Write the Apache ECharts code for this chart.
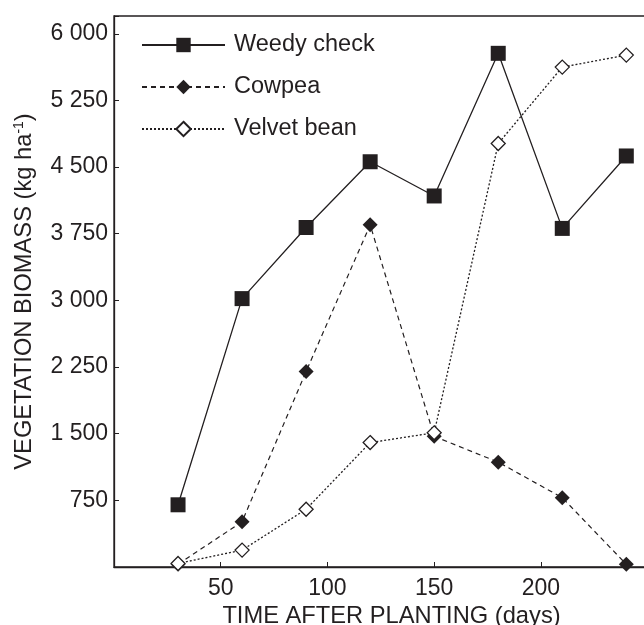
<!DOCTYPE html>
<html>
<head>
<meta charset="utf-8">
<script src="https://cdn.jsdelivr.net/npm/echarts@6/dist/echarts.min.js"></script>
<style>
html,body{margin:0;padding:0;background:#fff;}
#c{width:644px;height:625px;}
</style>
</head>
<body>
<div id="c"></div>
<script>
const days = [30, 60, 90, 120, 150, 180, 210, 240];
const weedyCheck = [700, 3020, 3820, 4560, 4175, 5780, 3810, 4625];
const cowpea = [30, 510, 2200, 3850, 1470, 1180, 780, 30];
const velvetBean = [40, 190, 650, 1400, 1510, 4765, 5625, 5760];
const seriesNames = ['Weedy check', 'Cowpea', 'Velvet bean'];
const yTicks = [0, 750, 1500, 2250, 3000, 3750, 4500, 5250, 6000];
const xTicks = [50, 100, 150, 200];

const INK = '#231f20';
const FONT = '"Liberation Sans", Arial, sans-serif';
const pairs = vals => days.map((d, i) => [d, vals[i]]);
const fmtNum = v => {
  const s = String(v);
  return s.length > 3 ? s.slice(0, s.length - 3) + ' ' + s.slice(-3) : s;
};

const chart = echarts.init(document.getElementById('c'), null, {renderer: 'canvas'});
chart.setOption({
  animation: false,
  backgroundColor: '#fff',
  grid: {
    left: 114, top: 16, height: 551, width: 555,
    outerBoundsMode: 'none', containLabel: false,
    show: true, borderColor: INK, borderWidth: 1.3, backgroundColor: 'transparent'
  },
  legend: {
    orient: 'vertical',
    left: 136, top: 28,
    itemWidth: 83, itemHeight: 18, itemGap: 18,
    textStyle: {fontFamily: FONT, fontSize: 23.5, color: INK, padding: [0, 0, 0, 4]},
    data: seriesNames
  },
  xAxis: {
    type: 'value', min: 0, max: 260, interval: 50,
    name: 'TIME AFTER PLANTING (days)', nameLocation: 'middle', nameGap: 36,
    nameTextStyle: {fontFamily: FONT, fontSize: 23.7, color: INK},
    axisLine: {show: true, lineStyle: {color: INK, width: 1.3}},
    axisTick: {show: true, inside: true, length: 5, lineStyle: {color: INK, width: 1}},
    axisLabel: {
      fontFamily: FONT, fontSize: 23, color: INK, margin: 10,
      formatter: v => xTicks.indexOf(v) >= 0 ? String(v) : ''
    },
    splitLine: {show: false}
  },
  yAxis: {
    type: 'value', min: 0, max: 6200, interval: 750,
    name: 'VEGETATION BIOMASS (kg ha{sup|-1})', nameLocation: 'middle', nameGap: 78,
    nameTextStyle: {
      fontFamily: FONT, fontSize: 23.7, color: INK,
      rich: {sup: {fontFamily: FONT, fontSize: 14, color: INK, verticalAlign: 'top', padding: [0, 0, 10, 0]}}
    },
    axisLine: {show: true, lineStyle: {color: INK, width: 1.3}},
    axisTick: {show: true, inside: true, length: 5, lineStyle: {color: INK, width: 1}},
    axisLabel: {
      fontFamily: FONT, fontSize: 23, color: INK, margin: 6,
      formatter: v => (yTicks.indexOf(v) >= 0 && v !== 0) ? fmtNum(v) : ''
    },
    splitLine: {show: false}
  },
  series: [
    {
      name: seriesNames[0], type: 'line', data: pairs(weedyCheck),
      symbol: 'rect', symbolSize: 15,
      lineStyle: {color: INK, width: 1.3, type: 'solid'},
      itemStyle: {color: INK, borderColor: INK, borderWidth: 0}
    },
    {
      name: seriesNames[1], type: 'line', data: pairs(cowpea),
      symbol: 'diamond', symbolSize: 15,
      lineStyle: {color: INK, width: 1.2, type: [5, 4]},
      itemStyle: {color: INK, borderColor: INK, borderWidth: 0}
    },
    {
      name: seriesNames[2], type: 'line', data: pairs(velvetBean),
      symbol: 'diamond', symbolSize: 14,
      lineStyle: {color: INK, width: 1.3, type: [2, 2]},
      itemStyle: {color: '#fff', borderColor: INK, borderWidth: 1.3}
    }
  ]
});
</script>
</body>
</html>
